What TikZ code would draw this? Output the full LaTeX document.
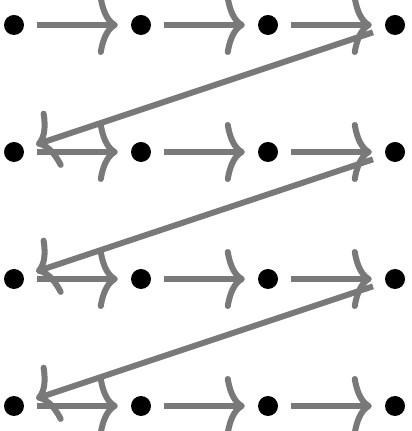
\documentclass[tikz,border=0pt]{standalone}
\usetikzlibrary{arrows.meta}

\begin{document}
\begin{tikzpicture}[
    dot/.style={
        circle, fill=black, draw=none,
        minimum size=0.5cm, inner sep=0pt, outer sep=0.33cm
    },
    stepedge/.style={
        draw=gray!95!black, line width=0.15cm,
        -{Computer Modern Rightarrow[length=0.5cm, width=1.5cm, round]}
    }
]

%% Rámček obrázka 411x431 px, 1 px = 0.025 cm
\useasboundingbox (0,0) rectangle (10.275,10.775);

%% ── Body mriežky 4x4 (riadky zhora nadol) ───────────────────────
\node[dot] (d1)  at (0.350, 10.150) {};
\node[dot] (d2)  at (3.525, 10.150) {};
\node[dot] (d3)  at (6.700, 10.150) {};
\node[dot] (d4)  at (9.875, 10.150) {};

\node[dot] (d5)  at (0.350, 6.975) {};
\node[dot] (d6)  at (3.525, 6.975) {};
\node[dot] (d7)  at (6.700, 6.975) {};
\node[dot] (d8)  at (9.875, 6.975) {};

\node[dot] (d9)  at (0.350, 3.800) {};
\node[dot] (d10) at (3.525, 3.800) {};
\node[dot] (d11) at (6.700, 3.800) {};
\node[dot] (d12) at (9.875, 3.800) {};

\node[dot] (d13) at (0.350, 0.625) {};
\node[dot] (d14) at (3.525, 0.625) {};
\node[dot] (d15) at (6.700, 0.625) {};
\node[dot] (d16) at (9.875, 0.625) {};

%% ── Vodorovné šípky v riadkoch ──────────────────────────────────
\draw[stepedge] (d1) -- (d2);
\draw[stepedge] (d2) -- (d3);
\draw[stepedge] (d3) -- (d4);

\draw[stepedge] (d5) -- (d6);
\draw[stepedge] (d6) -- (d7);
\draw[stepedge] (d7) -- (d8);

\draw[stepedge] (d9) -- (d10);
\draw[stepedge] (d10) -- (d11);
\draw[stepedge] (d11) -- (d12);

\draw[stepedge] (d13) -- (d14);
\draw[stepedge] (d14) -- (d15);
\draw[stepedge] (d15) -- (d16);

%% ── Šikmé šípky na začiatok ďalšieho riadku ─────────────────────
\draw[stepedge] (d4) -- (d5);
\draw[stepedge] (d8) -- (d9);
\draw[stepedge] (d12) -- (d13);

\end{tikzpicture}
\end{document}
